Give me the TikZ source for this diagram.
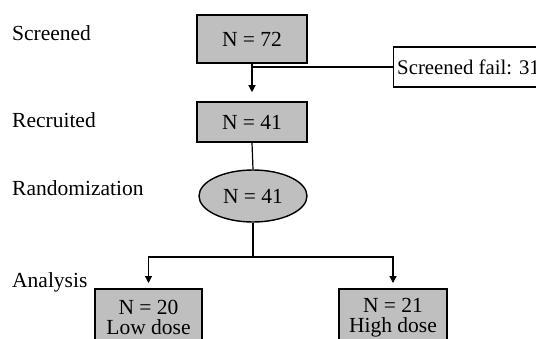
\documentclass[tikz,border=0pt]{standalone}
\usepackage{fontspec}
\setmainfont{Liberation Serif}
\usetikzlibrary{shapes.geometric,arrows.meta}
\begin{document}
\begin{tikzpicture}[x=1pt,y=-1pt,
  every node/.style={font=\fontsize{21.5}{20}\selectfont},
  graybox/.style={draw, line width=1.6pt, fill=black!25, rectangle, minimum width=110pt, minimum height=48pt, inner sep=0pt},
  whitebox/.style={draw, line width=1.4pt, fill=white, rectangle, minimum height=40pt, inner xsep=3.5pt, inner ysep=0pt, font=\fontsize{20.8}{20}\selectfont},
  grayell/.style={draw, line width=1.4pt, fill=black!25, ellipse, minimum width=108pt, minimum height=52pt, inner sep=0pt},
  lowbox/.style={draw, line width=1.6pt, fill=black!25, rectangle, minimum width=107pt, minimum height=58pt, inner sep=0pt, align=center, anchor=north},
  stagelabel/.style={anchor=west, inner sep=0pt},
  conn/.style={line width=1.2pt},
  arr/.style={conn, -{Triangle[length=7pt,width=7pt]}}
]
\useasboundingbox (0,0) rectangle (536,338);
\node[stagelabel] (l1) at (12,33) {Screened};
\node[stagelabel] (l2) at (12,120) {Recruited};
\node[stagelabel] (l3) at (12,188) {Randomization};
\node[stagelabel] (l4) at (12,282) {Analysis};

\node[graybox] (s72) at (252,39) {N = 72};
\node[whitebox, anchor=west] (fail) at (393,67) {Screened fail: 31};
\node[graybox, minimum height=40pt] (r41) at (252,122) {N = 41};
\node[grayell] (e41) at (253,196) {N = 41};
\node[lowbox] (low) at (148.5,288) {N = 20\\Low dose};
\node[lowbox, minimum width=108pt] (high) at (393,288) {N = 21\\High dose};
\coordinate (split) at (253,257);

\draw[arr, shorten >=9pt] (s72.south) -- (r41.north);
\draw[conn] (s72.south |- fail.west) -- (fail.west);
\draw[conn] (r41.south) -- (e41.north);
\draw[conn] (e41.south) -- (split);
\draw[arr, shorten >=5pt] (split) -| (low.north);
\draw[arr, shorten >=5pt] (split) -| (high.north);
\end{tikzpicture}
\end{document}
